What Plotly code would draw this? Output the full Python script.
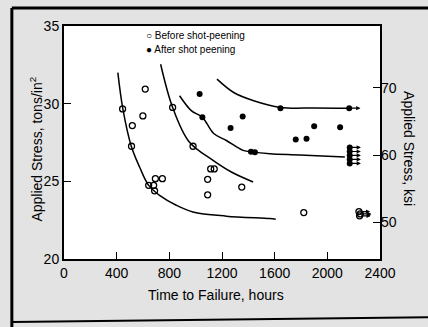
import plotly.graph_objects as go

# ---------------- data ----------------
# Before shot-peening (open circles): time to failure [h], stress [tons/in^2]
before_t = [445, 513, 519, 599, 617, 643, 681, 688, 694, 747, 825, 980, 1091, 1091, 1114, 1141, 1350, 1821]
before_s = [29.66, 27.26, 28.59, 29.21, 30.94, 24.74, 24.74, 24.39, 25.17, 25.17, 29.76, 27.26, 25.13, 24.13, 25.8, 25.8, 24.63, 22.99]
# Before shot-peening run-outs (unbroken)
before_run_t = [2240, 2250, 2245]
before_run_s = [23.05, 22.9, 22.78]

# After shot peening (filled circles)
after_t = [1030, 1051, 1265, 1357, 1420, 1450, 1644, 1760, 1842, 1900, 2097]
after_s = [30.62, 29.12, 28.43, 29.17, 26.9, 26.88, 29.7, 27.69, 27.74, 28.54, 28.48]
# After shot peening run-outs (unbroken)
after_run_t = [2166, 2170, 2170, 2170, 2170, 2170]
after_run_s = [29.71, 27.18, 26.92, 26.67, 26.41, 26.15]

# Fitted curves
curveA_t = [409, 447, 511, 574, 643, 726, 853, 979, 1233, 1563, 1608]
curveA_s = [32.0, 29.66, 27.26, 25.92, 24.74, 24.10, 23.46, 23.03, 22.76, 22.6, 22.56]
curveB_t = [734, 825, 950, 1132, 1271, 1436]
curveB_s = [32.54, 29.76, 27.55, 26.35, 25.6, 24.96]
curveC_t = [878, 967, 1051, 1137, 1233, 1360, 1436, 1563, 1791, 2133]
curveC_s = [30.51, 29.55, 29.12, 28.08, 27.63, 26.99, 26.88, 26.78, 26.70, 26.57]
curveD_t = [1162, 1289, 1441, 1644, 1897, 2163]
curveD_s = [31.58, 30.72, 30.19, 29.76, 29.72, 29.71]

x_ticks = [0, 400, 800, 1200, 1600, 2000, 2400]
y_ticks = [20, 25, 30, 35]
ksi_ticks = [50, 60, 70]

legend_labels = ["Before shot-peening", "After shot peening"]

RUN_LEN = 85  # hours, length of run-out arrows

fig = go.Figure()

for ct, cs in [(curveA_t, curveA_s), (curveB_t, curveB_s), (curveC_t, curveC_s), (curveD_t, curveD_s)]:
    fig.add_trace(go.Scatter(x=ct, y=cs, mode="lines", line=dict(color="black", width=1.5, shape="spline", smoothing=1.0),
                             showlegend=False, hoverinfo="skip"))

open_marker = dict(symbol="circle-open", size=6, color="black", line=dict(width=1.3, color="black"))
filled_marker = dict(symbol="circle", size=6, color="black")

fig.add_trace(go.Scatter(x=before_t, y=before_s, mode="markers", name=legend_labels[0], marker=open_marker, showlegend=False))
fig.add_trace(go.Scatter(x=after_t, y=after_s, mode="markers", name=legend_labels[1], marker=filled_marker, showlegend=False))
fig.add_trace(go.Scatter(x=before_run_t, y=before_run_s, mode="markers", showlegend=False, marker=open_marker))
fig.add_trace(go.Scatter(x=after_run_t, y=after_run_s, mode="markers", showlegend=False, marker=filled_marker))

# invisible trace to activate the right axis
fig.add_trace(go.Scatter(x=[None], y=[None], yaxis="y2", showlegend=False))

annotations = []
for t, s in list(zip(before_run_t, before_run_s)) + list(zip(after_run_t, after_run_s)):
    annotations.append(dict(x=t + RUN_LEN, y=s, ax=t, ay=s, xref="x", yref="y", axref="x", ayref="y",
                            text="", showarrow=True, arrowhead=2, arrowsize=0.7, arrowwidth=1.2, arrowcolor="black"))

font = "Liberation Sans, Arial, sans-serif"
annotations += [
    # legend (in-plot key)
    dict(text="\u25cb " + legend_labels[0], x=0.253, y=0.958, xref="paper", yref="paper", showarrow=False,
         xanchor="left", yanchor="middle", font=dict(size=10, color="black", family=font)),
    dict(text="\u25cf " + legend_labels[1], x=0.253, y=0.901, xref="paper", yref="paper", showarrow=False,
         xanchor="left", yanchor="middle", font=dict(size=10, color="black", family=font)),
    # axis titles
    dict(text="Time to Failure, hours", x=0.481, y=-0.155, xref="paper", yref="paper", showarrow=False,
         font=dict(size=14, color="black", family=font), yanchor="middle"),
    dict(text="Applied Stress, tons/in<sup>2</sup>", x=-0.123, y=0.47, xref="paper", yref="paper", showarrow=False,
         textangle=-90, font=dict(size=14, color="black", family=font)),
    dict(text="Applied Stress, ksi", x=1.125, y=0.474, xref="paper", yref="paper", showarrow=False,
         textangle=90, font=dict(size=14, color="black", family=font)),
]

axis_common = dict(ticks="inside", ticklen=7, tickwidth=1.2, tickcolor="black", showgrid=False,
                   zeroline=False, tickfont=dict(size=14), automargin=False)

fig.update_layout(
    width=428, height=327,
    margin=dict(l=64, r=48, t=26, b=68, autoexpand=False),
    paper_bgcolor="#e3e3e3",
    plot_bgcolor="white",
    font=dict(family=font, color="black", size=14),
    showlegend=False,
    xaxis=dict(range=[0, 2400], tickvals=x_ticks, showline=True, linecolor="black", linewidth=2, mirror=True,
               **axis_common),
    yaxis=dict(range=[20, 35], tickvals=y_ticks, showline=True, linecolor="black", linewidth=2, mirror=True,
               **axis_common),
    yaxis2=dict(range=[44.48, 79.25], tickvals=ksi_ticks, overlaying="y", side="right", showline=False,
                **axis_common),
    annotations=annotations,
    shapes=[
        # scanned page frame (top, left, bottom edges)
        dict(type="line", xref="paper", yref="paper", x0=-0.165, x1=1.16, y0=1.077, y1=1.077,
             line=dict(color="black", width=3)),
        dict(type="line", xref="paper", yref="paper", x0=-0.165, x1=-0.165, y0=1.077, y1=-0.3,
             line=dict(color="black", width=3)),
        dict(type="line", xref="paper", yref="paper", x0=-0.165, x1=1.16, y0=-0.27, y1=-0.25,
             line=dict(color="black", width=2)),
    ],
)

post = (
    "document.body.style.margin='0px';"
    "document.body.style.overflow='hidden';"
    "document.documentElement.style.overflow='hidden';"
    "var st=document.createElement('style');"
    "st.textContent='html,body{margin:0;padding:0;overflow:hidden;scrollbar-width:none;}"
    "::-webkit-scrollbar{display:none;width:0;height:0;}';"
    "document.head.appendChild(st);"
)
fig.write_html("out.html", config={"displayModeBar": False}, post_script=post)
